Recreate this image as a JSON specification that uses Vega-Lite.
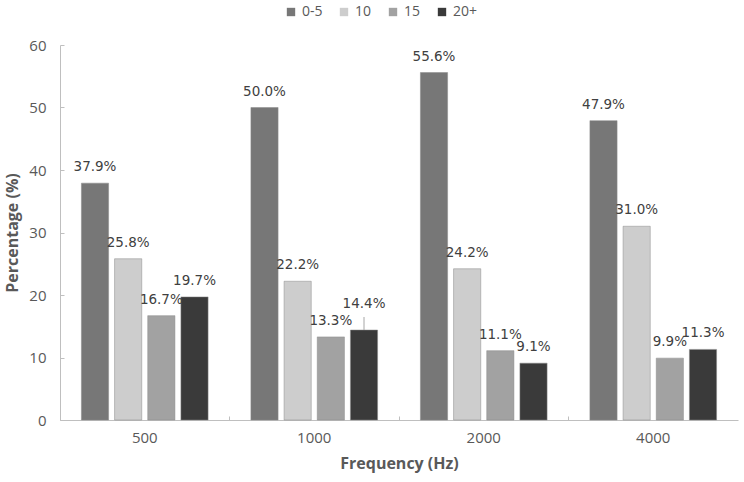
{
  "$schema": "https://vega.github.io/schema/vega-lite/v6.json",
  "width": 678,
  "height": 375,
  "autosize": "none",
  "padding": {"left": 60, "top": 45, "right": 6, "bottom": 62},
  "background": "white",
  "data": {
    "values": [
      {"freq": "500", "age": "0-5", "pct": 37.9, "label": "37.9%"},
      {"freq": "500", "age": "10", "pct": 25.8, "label": "25.8%"},
      {"freq": "500", "age": "15", "pct": 16.7, "label": "16.7%"},
      {"freq": "500", "age": "20+", "pct": 19.7, "label": "19.7%"},
      {"freq": "1000", "age": "0-5", "pct": 50.0, "label": "50.0%"},
      {"freq": "1000", "age": "10", "pct": 22.2, "label": "22.2%"},
      {"freq": "1000", "age": "15", "pct": 13.3, "label": "13.3%"},
      {"freq": "1000", "age": "20+", "pct": 14.4, "label": "14.4%"},
      {"freq": "2000", "age": "0-5", "pct": 55.6, "label": "55.6%"},
      {"freq": "2000", "age": "10", "pct": 24.2, "label": "24.2%"},
      {"freq": "2000", "age": "15", "pct": 11.1, "label": "11.1%"},
      {"freq": "2000", "age": "20+", "pct": 9.1, "label": "9.1%"},
      {"freq": "4000", "age": "0-5", "pct": 47.9, "label": "47.9%"},
      {"freq": "4000", "age": "10", "pct": 31.0, "label": "31.0%"},
      {"freq": "4000", "age": "15", "pct": 9.9, "label": "9.9%"},
      {"freq": "4000", "age": "20+", "pct": 11.3, "label": "11.3%"}
    ]
  },
  "encoding": {
    "x": {
      "field": "freq",
      "type": "ordinal",
      "sort": ["500", "1000", "2000", "4000"],
      "scale": {"paddingInner": 0, "paddingOuter": 0},
      "title": "Frequency (Hz)",
      "axis": {
        "labelAngle": 0,
        "bandPosition": 0,
        "tickSize": -4,
        "labelPadding": 14,
        "titlePadding": 10
      }
    },
    "xOffset": {
      "field": "age",
      "type": "nominal",
      "sort": ["0-5", "10", "15", "20+"],
      "scale": {"paddingInner": 0.18, "paddingOuter": 0.645}
    },
    "y": {
      "field": "pct",
      "type": "quantitative",
      "scale": {"domain": [0, 60]},
      "title": "Percentage (%)",
      "axis": {
        "values": [0, 10, 20, 30, 40, 50, 60],
        "grid": false,
        "tickSize": -4,
        "labelPadding": 18,
        "titlePadding": 8
      }
    }
  },
  "layer": [
    {
      "mark": {"type": "bar", "stroke": "#8a8a8a", "strokeWidth": 0.5},
      "encoding": {
        "color": {
          "field": "age",
          "type": "nominal",
          "sort": ["0-5", "10", "15", "20+"],
          "scale": {
            "domain": ["0-5", "10", "15", "20+"],
            "range": ["#777777", "#cdcdcd", "#a2a2a2", "#3a3a3a"]
          },
          "legend": {
            "title": null,
            "orient": "none",
            "direction": "horizontal",
            "legendX": 224,
            "legendY": -40,
            "symbolType": "square",
            "symbolSize": 70,
            "symbolStrokeWidth": 0,
            "labelFontSize": 14,
            "labelFont": "Open Sans",
            "labelColor": "#595959",
            "labelOffset": 4,
            "columnPadding": 14
          }
        }
      }
    },
    {
      "transform": [{"filter": "!(datum.freq == '1000' && datum.age == '20+')"}],
      "mark": {
        "type": "text",
        "baseline": "bottom",
        "dy": -9,
        "font": "DejaVu Sans",
        "fontSize": 13.5,
        "color": "#404040"
      },
      "encoding": {
        "text": {"field": "label", "type": "nominal"}
      }
    },
    {
      "transform": [{"filter": "datum.freq == '1000' && datum.age == '20+'"}],
      "mark": {
        "type": "text",
        "baseline": "bottom",
        "dy": -19,
        "font": "DejaVu Sans",
        "fontSize": 13.5,
        "color": "#404040"
      },
      "encoding": {
        "text": {"field": "label", "type": "nominal"}
      }
    },
    {
      "transform": [{"filter": "datum.freq == '1000' && datum.age == '20+'"}],
      "mark": {"type": "rule", "color": "#a6a6a6", "strokeWidth": 1, "y2Offset": -13},
      "encoding": {
        "y2": {"field": "pct"}
      }
    }
  ],
  "config": {
    "view": {"stroke": null},
    "axis": {
      "domainColor": "#bfbfbf",
      "tickColor": "#bfbfbf",
      "labelFont": "Open Sans",
      "labelFontSize": 15,
      "labelColor": "#595959",
      "titleFont": "Open Sans",
      "titleFontSize": 16,
      "titleFontWeight": "bold",
      "titleColor": "#595959"
    }
  }
}
